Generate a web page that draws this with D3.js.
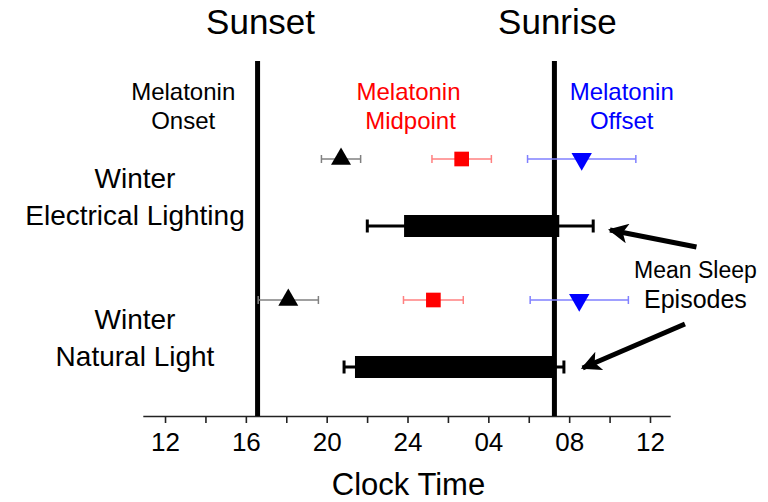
<!DOCTYPE html>
<html>
<head>
<meta charset="utf-8">
<script src="https://cdn.jsdelivr.net/npm/d3@7"></script>
<style>
  body { margin: 0; background: #fff; }
  text { font-family: "Liberation Sans", Arial, sans-serif; }
</style>
</head>
<body>
<div id="chart"></div>
<script>
(function(){
    // data (clock hours, past midnight continues as 24+)
    const groups = ["Winter Electrical Lighting", "Winter Natural Light"];
    const groupLines = [["Winter", "Electrical Lighting"], ["Winter", "Natural Light"]];

    const onsetMean = [20.71, 18.10];
    const onsetSD = [0.97, 1.49];
    const midMean = [26.68, 25.28];
    const midSD = [1.47, 1.48];
    const offsetMean = [32.62, 32.50];
    const offsetSD = [2.68, 2.43];

    const sleepStart = [23.83, 21.40];
    const sleepStartSD = [1.82, 0.54];
    const sleepEnd = [31.51, 31.21];
    const sleepEndSD = [1.68, 0.53];

    const sunset = 16.58;
    const sunrise = 31.27;

    const tickHours = [12, 14, 16, 18, 20, 22, 24, 26, 28, 30, 32, 34, 36];
    const tickLabels = ["12", "", "16", "", "20", "", "24", "", "04", "", "08", "", "12"];

    const width = 768;
    const height = 502;
    const axisY = 416;

    const svg = d3.select("#chart")
        .append("svg")
            .attr("width", width)
            .attr("height", height);

    const x = d3.scaleLinear()
        .domain([10.9, 37])
        .range([142.8, 670.2]);

    const y = d3.scaleBand()
        .domain(groups)
        .range([121, 403]);

    const markerY = g => y(g) + 38;
    const barY = g => y(g) + 105;

    // x axis
    const xAxis = d3.axisBottom(x)
        .tickValues(tickHours)
        .tickFormat((d, i) => tickLabels[i])
        .tickSize(7)
        .tickSizeOuter(0)
        .tickPadding(10);

    const ax = svg.append("g")
        .attr("transform", `translate(0, ${axisY})`)
        .call(xAxis);
    ax.select(".domain").attr("stroke", "#222").attr("stroke-width", 1.6);
    ax.selectAll(".tick line").attr("stroke", "#222").attr("stroke-width", 1.6);
    ax.selectAll(".tick text")
        .attr("font-family", "Liberation Sans, Arial, sans-serif")
        .attr("font-size", 26)
        .attr("fill", "#000");

    svg.append("text")
        .attr("x", x(24) + 1)
        .attr("y", 495)
        .attr("text-anchor", "middle")
        .attr("font-size", 31)
        .text("Clock Time");

    // sunset / sunrise lines
    [[sunset, "Sunset"], [sunrise, "Sunrise"]].forEach(([h, label]) => {
        svg.append("line")
            .attr("x1", x(h)).attr("x2", x(h))
            .attr("y1", 61).attr("y2", axisY)
            .attr("stroke", "#000")
            .attr("stroke-width", 5);
        svg.append("text")
            .attr("x", x(h) + 3)
            .attr("y", 34)
            .attr("text-anchor", "middle")
            .attr("font-size", 35)
            .text(label);
    });

    // column headers
    const headers = [
        { lines: ["Melatonin", "Onset"], color: "#000", hour: 12.9 },
        { lines: ["Melatonin", "Midpoint"], color: "#ff0000", hour: 24.05 },
        { lines: ["Melatonin", "Offset"], color: "#0000ff", hour: 34.6 }
    ];
    headers.forEach(hd => {
        hd.lines.forEach((t, i) => {
            svg.append("text")
                .attr("x", x(hd.hour) + (i === 1 && hd.lines[1] === "Midpoint" ? 2 : 0))
                .attr("y", 100 + i * 29)
                .attr("text-anchor", "middle")
                .attr("font-size", 24)
                .attr("fill", hd.color)
                .text(t);
        });
    });

    // group labels
    groups.forEach((g, i) => {
        groupLines[i].forEach((t, j) => {
            svg.append("text")
                .attr("x", 135)
                .attr("y", barY(g) + (j === 0 ? -38 : -1))
                .attr("text-anchor", "middle")
                .attr("font-size", 28)
                .text(t);
        });
    });

    // melatonin markers with error bars
    const series = [
        { mean: onsetMean, sd: onsetSD, color: "#000", whisker: "#808080", symbol: d3.symbolTriangle, size: 173, rot: 0 },
        { mean: midMean, sd: midSD, color: "#ff0000", whisker: "#ff8080", symbol: d3.symbolSquare, size: 215, rot: 0 },
        { mean: offsetMean, sd: offsetSD, color: "#0000ff", whisker: "#8080ff", symbol: d3.symbolTriangle, size: 180, rot: 180 }
    ];

    series.forEach(s => {
        const gS = svg.append("g");
        groups.forEach((g, i) => {
            const cy = markerY(g);
            const lo = x(s.mean[i] - s.sd[i]);
            const hi = x(s.mean[i] + s.sd[i]);
            gS.append("line")
                .attr("x1", lo).attr("x2", hi)
                .attr("y1", cy).attr("y2", cy)
                .attr("stroke", s.whisker).attr("stroke-width", 1.5);
            [lo, hi].forEach(px => {
                gS.append("line")
                    .attr("x1", px).attr("x2", px)
                    .attr("y1", cy - 4).attr("y2", cy + 4)
                    .attr("stroke", s.whisker).attr("stroke-width", 1.5);
            });
            gS.append("path")
                .attr("d", d3.symbol(s.symbol, s.size)())
                .attr("transform", `translate(${x(s.mean[i])}, ${cy}) rotate(${s.rot})`)
                .attr("fill", s.color);
        });
    });

    // sleep episode bars
    const barH = 22;
    groups.forEach((g, i) => {
        const cy = barY(g);
        const lo = x(sleepStart[i] - sleepStartSD[i]);
        const hi = x(sleepEnd[i] + sleepEndSD[i]);
        svg.append("line")
            .attr("x1", lo).attr("x2", hi)
            .attr("y1", cy).attr("y2", cy)
            .attr("stroke", "#000").attr("stroke-width", 3);
        [lo, hi].forEach(px => {
            svg.append("line")
                .attr("x1", px).attr("x2", px)
                .attr("y1", cy - 6.5).attr("y2", cy + 6.5)
                .attr("stroke", "#000").attr("stroke-width", 3);
        });
        svg.append("rect")
            .attr("x", x(sleepStart[i]))
            .attr("y", cy - barH / 2)
            .attr("width", x(sleepEnd[i]) - x(sleepStart[i]))
            .attr("height", barH)
            .attr("fill", "#000");
    });

    // annotation
    svg.append("text")
        .attr("x", x(38.25))
        .attr("y", 278)
        .attr("text-anchor", "middle")
        .attr("font-size", 23)
        .text("Mean Sleep");
    svg.append("text")
        .attr("x", x(38.25))
        .attr("y", 308)
        .attr("text-anchor", "middle")
        .attr("font-size", 25)
        .text("Episodes");

    svg.append("defs").append("marker")
        .attr("id", "head")
        .attr("viewBox", "0 0 10 10")
        .attr("refX", 9)
        .attr("refY", 5)
        .attr("markerUnits", "userSpaceOnUse")
        .attr("markerWidth", 26)
        .attr("markerHeight", 20)
        .attr("orient", "auto")
      .append("path")
        .attr("d", "M0,0 L10,5 L0,10 L2.5,5 Z")
        .attr("fill", "#000");

    const arrows = [
        { from: [38.3, barY(groups[0]) + 21], to: [34.02, barY(groups[0]) + 4] },
        { from: [37.73, barY(groups[1]) - 43], to: [32.67, barY(groups[1]) + 1] }
    ];
    arrows.forEach(a => {
        svg.append("line")
            .attr("x1", x(a.from[0])).attr("y1", a.from[1])
            .attr("x2", x(a.to[0])).attr("y2", a.to[1])
            .attr("stroke", "#000")
            .attr("stroke-width", 5)
            .attr("marker-end", "url(#head)");
    });
}())
</script>
</body>
</html>
